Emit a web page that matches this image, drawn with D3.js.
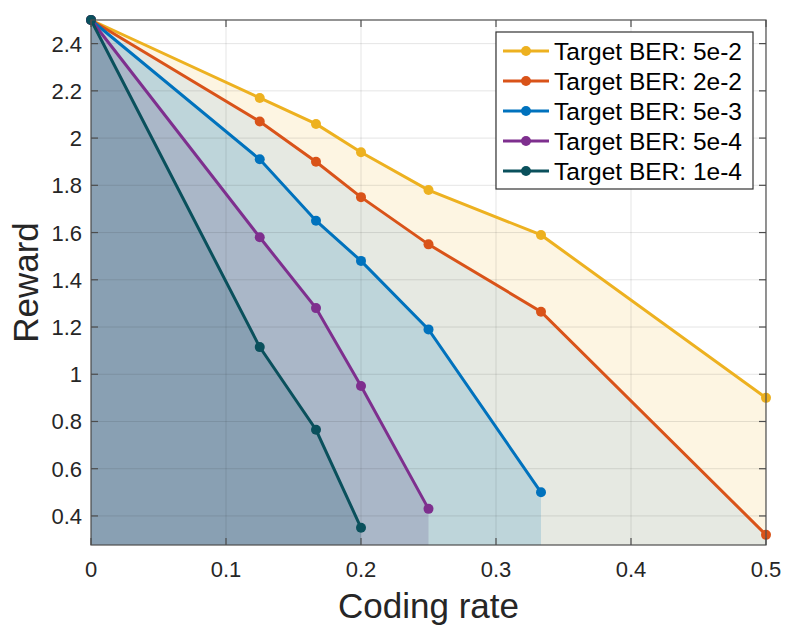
<!DOCTYPE html>
<html>
<head>
<meta charset="utf-8">
<script src="https://cdn.jsdelivr.net/npm/d3@7"></script>
<style>
  body { margin: 0; background: #fff; }
  text { font-family: "Liberation Sans", Arial, sans-serif; }
</style>
</head>
<body>
<svg id="chart" width="789" height="629"></svg>
<script>
// coding rates on the x axis
var rates = [0, 1/8, 1/6, 1/5, 1/4, 1/3, 1/2];

// one list of rewards per target BER
var ber5e2 = [2.5, 2.17, 2.06, 1.94, 1.78, 1.59, 0.90];
var ber2e2 = [2.5, 2.07, 1.90, 1.75, 1.55, 1.265, 0.32];
var ber5e3 = [2.5, 1.91, 1.65, 1.48, 1.19, 0.50];
var ber5e4 = [2.5, 1.58, 1.28, 0.95, 0.43];
var ber1e4 = [2.5, 1.115, 0.765, 0.35];

var labels = ["Target BER: 5e-2", "Target BER: 2e-2", "Target BER: 5e-3", "Target BER: 5e-4", "Target BER: 1e-4"];
var lineColors = ["#EDB120", "#D95319", "#0072BD", "#7E2F8E", "#0A505C"];
var fillColors = ["#fdf5e2", "#e6e9e2", "#bed5da", "#aab7c8", "#89a0b3"];

var xTicks = [0, 0.1, 0.2, 0.3, 0.4, 0.5];
var yTicks = [0.4, 0.6, 0.8, 1, 1.2, 1.4, 1.6, 1.8, 2, 2.2, 2.4];

var series = [ber5e2, ber2e2, ber5e3, ber5e4, ber1e4].map(function (vals, i) {
  return {
    label: labels[i],
    color: lineColors[i],
    fill: fillColors[i],
    points: vals.map(function (v, j) { return { x: rates[j], y: v } })
  }
})

// plot box (note: "top" is taken by window.top, so prefix these)
var pLeft = 91, pTop = 20, pRight = 766, pBottom = 545
var yMin = 0.277

var svg = d3.select('#chart')

var x = d3.scaleLinear().domain([0, 0.5]).range([pLeft, pRight])
var y = d3.scaleLinear().domain([yMin, 2.5]).range([pBottom, pTop])

svg.append('defs').append('clipPath').attr('id', 'plotclip')
  .append('rect')
  .attr('x', pLeft).attr('y', pTop)
  .attr('width', pRight - pLeft).attr('height', pBottom - pTop)

var plot = svg.append('g').attr('clip-path', 'url(#plotclip)')

// filled regions under each curve, biggest first
var area = d3.area()
  .x(function (d) { return x(d.x) })
  .y0(function () { return y(yMin) })
  .y1(function (d) { return y(d.y) })

plot.selectAll('path.fill')
  .data(series)
  .enter().append('path')
  .attr('class', 'fill')
  .attr('d', function (s) { return area(s.points) })
  .attr('fill', function (s) { return s.fill })

// grid on top of the fills, faint
var grid = plot.append('g').attr('stroke', '#262626').attr('stroke-opacity', 0.12).attr('stroke-width', 1)
grid.selectAll('line.vx')
  .data(xTicks)
  .enter().append('line')
  .attr('x1', function (d) { return x(d) }).attr('x2', function (d) { return x(d) })
  .attr('y1', pTop).attr('y2', pBottom)
grid.selectAll('line.hy')
  .data(yTicks)
  .enter().append('line')
  .attr('y1', function (d) { return y(d) }).attr('y2', function (d) { return y(d) })
  .attr('x1', pLeft).attr('x2', pRight)

// lines and markers
var line = d3.line()
  .x(function (d) { return x(d.x) })
  .y(function (d) { return y(d.y) })

var groups = svg.selectAll('g.series')
  .data(series)
  .enter().append('g')
  .attr('class', 'series')

groups.append('path')
  .attr('d', function (s) { return line(s.points) })
  .attr('fill', 'none')
  .attr('stroke', function (s) { return s.color })
  .attr('stroke-width', 3)

groups.selectAll('circle')
  .data(function (s) { return s.points.map(function (p) { return { p: p, c: s.color } }) })
  .enter().append('circle')
  .attr('cx', function (d) { return x(d.p.x) })
  .attr('cy', function (d) { return y(d.p.y) })
  .attr('r', 5)
  .attr('fill', function (d) { return d.c })

// axes box with inward ticks
var axisColor = '#4d4d4d'
svg.append('rect')
  .attr('x', pLeft).attr('y', pTop)
  .attr('width', pRight - pLeft).attr('height', pBottom - pTop)
  .attr('fill', 'none').attr('stroke', axisColor).attr('stroke-width', 1.2)

var tickLen = 7
var ticks = svg.append('g').attr('stroke', axisColor).attr('stroke-width', 1.2)
xTicks.forEach(function (t) {
  ticks.append('line').attr('x1', x(t)).attr('x2', x(t)).attr('y1', pBottom).attr('y2', pBottom - tickLen)
  ticks.append('line').attr('x1', x(t)).attr('x2', x(t)).attr('y1', pTop).attr('y2', pTop + tickLen)
})
yTicks.forEach(function (t) {
  ticks.append('line').attr('y1', y(t)).attr('y2', y(t)).attr('x1', pLeft).attr('x2', pLeft + tickLen)
  ticks.append('line').attr('y1', y(t)).attr('y2', y(t)).attr('x1', pRight).attr('x2', pRight - tickLen)
})

svg.append('g').selectAll('text')
  .data(xTicks)
  .enter().append('text')
  .attr('x', function (d) { return x(d) })
  .attr('y', 577)
  .attr('text-anchor', 'middle')
  .attr('font-size', 22)
  .attr('fill', '#262626')
  .text(function (d) { return d3.format('')(d) })

svg.append('g').selectAll('text')
  .data(yTicks)
  .enter().append('text')
  .attr('x', 82)
  .attr('y', function (d) { return y(d) + 8 })
  .attr('text-anchor', 'end')
  .attr('font-size', 22)
  .attr('fill', '#262626')
  .text(function (d) { return d3.format('')(d) })

svg.append('text')
  .attr('x', (pLeft + pRight) / 2)
  .attr('y', 618)
  .attr('text-anchor', 'middle')
  .attr('font-size', 35)
  .attr('fill', '#262626')
  .text('Coding rate')

svg.append('text')
  .attr('transform', 'translate(38,' + ((pTop + pBottom) / 2) + ') rotate(-90)')
  .attr('text-anchor', 'middle')
  .attr('font-size', 35)
  .attr('fill', '#262626')
  .text('Reward')

// legend
var legend = svg.append('g')
legend.append('rect')
  .attr('x', 496).attr('y', 32)
  .attr('width', 257).attr('height', 157)
  .attr('fill', '#fff').attr('stroke', '#333').attr('stroke-width', 1.2)

var rows = legend.selectAll('g.row')
  .data(series)
  .enter().append('g')
  .attr('class', 'row')
  .attr('transform', function (s, i) { return 'translate(0,' + (51 + i * 30) + ')' })

rows.append('line')
  .attr('x1', 503).attr('x2', 549)
  .attr('stroke', function (s) { return s.color })
  .attr('stroke-width', 3)
rows.append('circle')
  .attr('cx', 526).attr('r', 5)
  .attr('fill', function (s) { return s.color })
rows.append('text')
  .attr('x', 554).attr('y', 9)
  .attr('font-size', 24.5)
  .attr('fill', '#000')
  .text(function (s) { return s.label })
</script>
</body>
</html>
